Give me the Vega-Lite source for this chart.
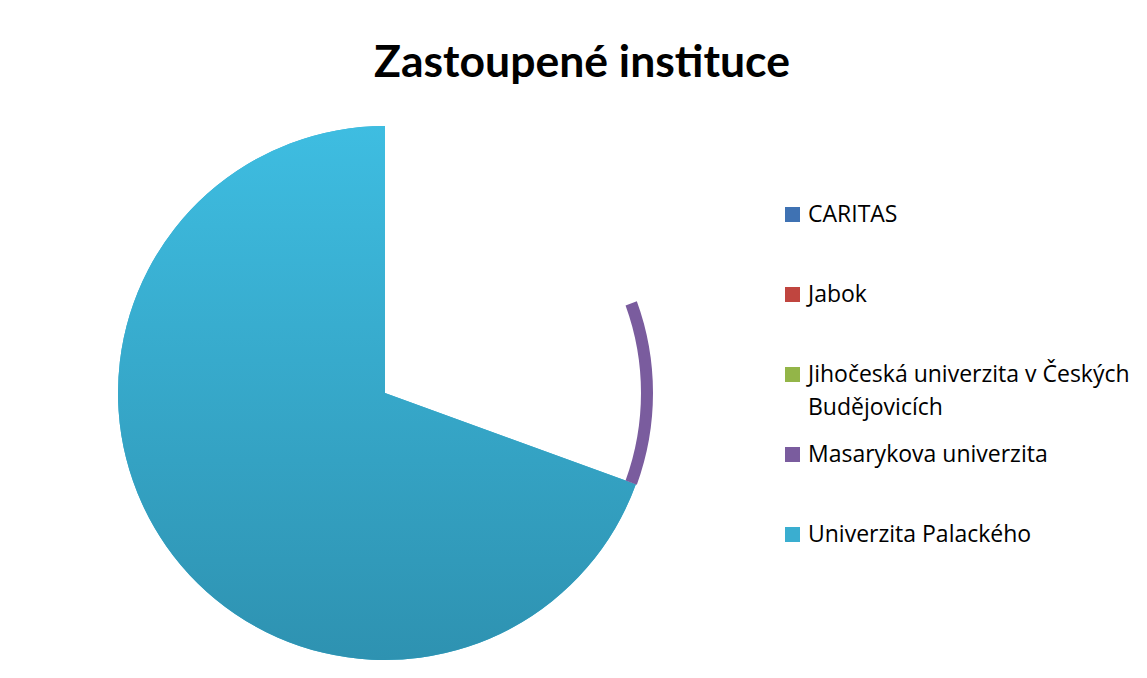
{
  "$schema": "https://vega.github.io/schema/vega-lite/v6.json",
  "width": 770,
  "height": 570,
  "autosize": {"type": "none"},
  "padding": {"left": 0, "top": 108, "right": 377, "bottom": 0},
  "background": "white",
  "config": {
    "view": {"stroke": null},
    "style": {"guide-label": {"lineHeight": 33}}
  },
  "title": {
    "text": "Zastoupené instituce",
    "font": "Lato",
    "fontSize": 44.5,
    "fontWeight": "bold",
    "color": "black",
    "anchor": "middle",
    "dx": 197,
    "offset": -13,
    "baseline": "alphabetic"
  },
  "data": {
    "values": [
      {"institution": "CARITAS", "count": 3},
      {"institution": "Jabok", "count": 2},
      {"institution": "Jihočeská univerzita v Českých Budějovicích", "count": 2},
      {"institution": "Masarykova univerzita", "count": 4},
      {"institution": "Univerzita Palackého", "count": 25}
    ]
  },
  "encoding": {
    "theta": {"field": "count", "type": "quantitative", "stack": true},
    "order": {"field": "institution", "type": "nominal", "sort": "ascending"}
  },
  "layer": [
    {
      "mark": {"type": "arc", "radius": 267},
      "encoding": {
        "color": {
          "field": "institution",
          "type": "nominal",
          "scale": {
            "domain": ["CARITAS", "Jabok", "Jihočeská univerzita v Českých Budějovicích", "Masarykova univerzita", "Univerzita Palackého"],
            "range": ["#3f72b3", "#c0453f", "#93b548", "#7a5c9e", "#3aaed0"]
          },
          "legend": {
            "orient": "none",
            "legendX": 781,
            "legendY": 95,
            "title": null,
            "symbolType": "square",
            "symbolSize": 225,
            "symbolStrokeWidth": 0,
            "labelFont": "Open Sans",
            "labelFontSize": 23,
            "labelColor": "black",
            "labelOffset": 4,
            "labelLimit": 400,
            "rowPadding": 23,
            "padding": 0,
            "labelExpr": "datum.label === 'Jihočeská univerzita v Českých Budějovicích' ? ['Jihočeská univerzita v Českých', 'Budějovicích'] : [datum.label, '']",
            "encode": {
              "labels": {
                "update": {
                  "lineHeight": {"value": 33},
                  "dy": {"value": 16.5}
                }
              }
            }
          }
        },
        "opacity": {
          "condition": {"test": "datum.institution === 'Univerzita Palackého'", "value": 1},
          "value": 0
        }
      }
    },
    {
      "mark": {
        "type": "arc",
        "radius": 267,
        "color": {
          "gradient": "linear",
          "x1": 0, "y1": 0, "x2": 0, "y2": 1,
          "stops": [
            {"offset": 0, "color": "#3ebde1"},
            {"offset": 1, "color": "#2e92b1"}
          ]
        }
      },
      "encoding": {
        "opacity": {
          "condition": {"test": "datum.institution === 'Univerzita Palackého'", "value": 1},
          "value": 0
        }
      }
    },
    {
      "mark": {"type": "arc", "radius": 268, "radius2": 256, "color": "#7a5c9e"},
      "encoding": {
        "opacity": {
          "condition": {"test": "datum.institution === 'Masarykova univerzita'", "value": 1},
          "value": 0
        }
      }
    }
  ]
}
